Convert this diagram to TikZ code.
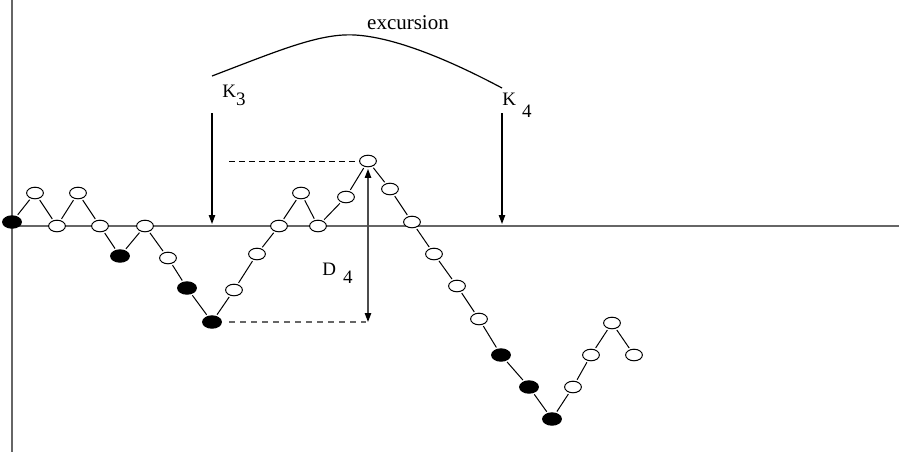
\documentclass[tikz,border=0pt]{standalone}
\usepackage{fontspec}
\setmainfont{Liberation Serif}
\usetikzlibrary{shapes.geometric,arrows.meta}
\begin{document}
\begin{tikzpicture}[x=0.5pt,y=-0.5pt,
  openpt/.style={ellipse,draw,fill=white,line width=0.5pt,minimum width=8.4pt,minimum height=5.8pt,inner sep=0pt},
  fullpt/.style={ellipse,draw,fill=black,line width=0.5pt,minimum width=9.4pt,minimum height=6.2pt,inner sep=0pt},
  walk/.style={line width=0.5pt,shorten <=0.8pt,shorten >=0.8pt},
  axis/.style={draw=black!60,line width=0.75pt},
  arr/.style={line width=0.6pt,-{Triangle[length=4.5pt,width=3.2pt]}},
  lbl/.style={anchor=base west,inner sep=0pt,font=\fontsize{9.5}{11}\selectfont}]
\useasboundingbox (0,0) rectangle (899,457);
% axes
\coordinate (ytop) at (12,0);
\coordinate (ybot) at (12,452);
\coordinate (xl) at (12,226);
\coordinate (xr) at (899,226);
\draw[axis] (ytop) -- (ybot);
\draw[axis] (xl) -- (xr);
% walk nodes
\node[fullpt] (n1) at (12,222) {};
\node[openpt] (n2) at (35,193) {};
\node[openpt] (n3) at (57,226) {};
\node[openpt] (n4) at (78,193) {};
\node[openpt] (n5) at (100,226) {};
\node[fullpt] (n6) at (120,256) {};
\node[openpt] (n7) at (145,226) {};
\node[openpt] (n8) at (168,258) {};
\node[fullpt] (n9) at (187,288) {};
\node[fullpt] (n10) at (212,322) {};
\node[openpt] (n11) at (234,290) {};
\node[openpt] (n12) at (257,254) {};
\node[openpt] (n13) at (279,226) {};
\node[openpt] (n14) at (301,193) {};
\node[openpt] (n15) at (318,226) {};
\node[openpt] (n16) at (346,197) {};
\node[openpt] (n17) at (368,161) {};
\node[openpt] (n18) at (390,189) {};
\node[openpt] (n19) at (412,222) {};
\node[openpt] (n20) at (434,254) {};
\node[openpt] (n21) at (457,286) {};
\node[openpt] (n22) at (479,319) {};
\node[fullpt] (n23) at (501,355) {};
\node[fullpt] (n24) at (529,387) {};
\node[fullpt] (n25) at (552,419) {};
\node[openpt] (n26) at (573,387) {};
\node[openpt] (n27) at (591,355) {};
\node[openpt] (n28) at (612,323) {};
\node[openpt] (n29) at (634,355) {};
\foreach \a/\b in {1/2,2/3,3/4,4/5,5/6,6/7,7/8,8/9,9/10,10/11,11/12,12/13,13/14,14/15,15/16,16/17,17/18,18/19,19/20,20/21,21/22,22/23,23/24,24/25,25/26,26/27,27/28,28/29}
  \draw[walk] (n\a) -- (n\b);
% dashed guides
\coordinate (dtop) at (229,161);
\coordinate (dbl) at (229,322);
\coordinate (dbr) at (366,322);
\draw[dashed,line width=0.5pt,dash pattern=on 3pt off 2pt] (dtop) -- (n17.west);
\draw[dashed,draw=black!60,line width=0.6pt,dash pattern=on 3pt off 2.5pt] (dbl) -- (dbr);
% D4 double arrow
\coordinate (dbot) at (368,322);
\draw[draw=black!70,line width=0.7pt,{Triangle[length=4.5pt,width=3.2pt,black]}-{Triangle[length=4.5pt,width=3.2pt,black]}] ([yshift=-0.8pt]n17.south) -- (dbot);
% K arrows
\coordinate (k3a) at (212,113);
\coordinate (k3b) at (212,224);
\coordinate (k4a) at (502,113);
\coordinate (k4b) at (502,224);
\draw[arr] (k3a) -- (k3b);
\draw[arr] (k4a) -- (k4b);
% excursion curve
\coordinate (e1) at (212,76);
\coordinate (ep) at (355,35);
\coordinate (e2) at (502,88);
\draw[line width=0.6pt] (e1) .. controls (280,50) and (320,33) .. (ep) .. controls (390,37) and (440,55) .. (e2);
% labels
\node[inner sep=0pt,font=\fontsize{10.5}{12}\selectfont] (exc) at (408,23) {excursion};
\node[lbl] (k3) at (222,97) {K\raisebox{-4pt}{3}};
\node[lbl] (k4) at (502,105) {K\hspace{3pt}\raisebox{-6pt}{4}};
\node[lbl] (d4) at (322,275) {D\hspace{3.5pt}\raisebox{-4pt}{4}};
\end{tikzpicture}
\end{document}
